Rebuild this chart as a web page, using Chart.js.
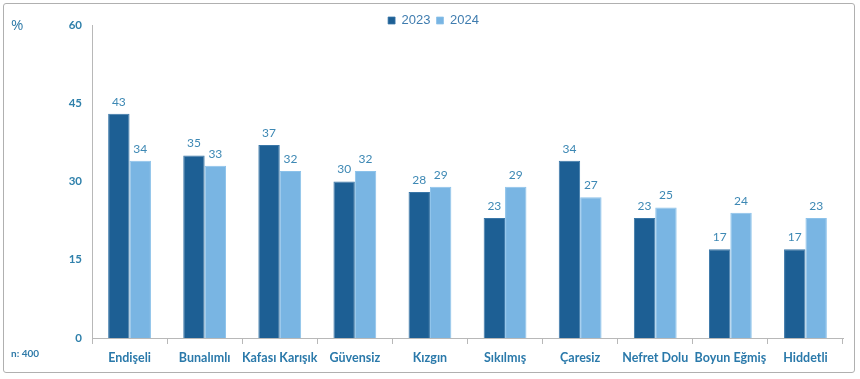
<!DOCTYPE html>
<html><head><meta charset="utf-8">
<script src="https://cdn.jsdelivr.net/npm/chart.js@4.4.1/dist/chart.umd.min.js"></script>
<style>
html,body{margin:0;padding:0;background:#fff;}
#wrap{position:absolute;left:0;top:0;width:860px;height:379px;}
#frame{position:absolute;left:3px;top:3px;width:852px;height:370px;border:1px solid #b0b0b0;border-radius:3px;box-sizing:border-box;pointer-events:none;}
#pct{position:absolute;left:11px;top:14px;font:15px "Open Sans",sans-serif;color:#2f7aa8;}
#n{position:absolute;left:11px;top:347px;font:bold 10px Lato,sans-serif;color:#2f7aa8;}
</style></head>
<body>
<div id="wrap"><canvas id="c" width="860" height="379"></canvas></div>
<div id="frame"></div>
<div id="pct">%</div>
<div id="n">n: 400</div>
<script>
const categories = ["Endişeli","Bunalımlı","Kafası Karışık","Güvensiz","Kızgın","Sıkılmış","Çaresiz","Nefret Dolu","Boyun Eğmiş","Hiddetli"];
const values2023 = [43,35,37,30,28,23,34,23,17,17];
const values2024 = [34,33,32,32,29,29,27,25,24,23];
const seriesNames = ["2023","2024"];
const yTicks = [0,15,30,45,60];

const labelPlugin = {
  id:'barLabels',
  afterDatasetsDraw(chart){
    const ctx = chart.ctx;
    ctx.save();
    ctx.font = '12px Lato, sans-serif';
    ctx.fillStyle = '#3d88b4';
    ctx.textAlign = 'center';
    ctx.textBaseline = 'bottom';
    chart.data.datasets.forEach((ds,i)=>{
      chart.getDatasetMeta(i).data.forEach((el,j)=>{
        ctx.fillText(String(ds.data[j]), el.x, el.y - 6);
      });
    });
    ctx.restore();
  }
};

const legendFit = {
  id:'legendFit',
  afterInit(chart){
    const lg = chart.legend;
    if(!lg) return;
    const origFit = lg.fit;
    lg.fit = function(){ origFit.apply(this, arguments); this.height = 17; };
    const origDraw = lg.draw;
    lg.draw = function(){
      const ctx = this.ctx;
      ctx.save(); ctx.translate(12, 0);
      origDraw.apply(this, arguments);
      ctx.restore();
    };
  }
};

new Chart(document.getElementById('c'), {
  type:'bar',
  data:{
    labels:categories,
    datasets:[
      {label:seriesNames[0], data:values2023, backgroundColor:'#1d5f94', borderColor:'#3a77a8', borderWidth:{top:1,left:1,right:1,bottom:0}},
      {label:seriesNames[1], data:values2024, backgroundColor:'#79b5e3', borderColor:'#8cc2ea', borderWidth:{top:1,left:1,right:1,bottom:0}}
    ]
  },
  options:{
    responsive:false,
    animation:false,
    devicePixelRatio:1,
    layout:{padding:{top:8,right:17,bottom:8,left:0}},
    datasets:{bar:{categoryPercentage:0.57,barPercentage:1}},
    plugins:{
      legend:{display:true,position:'top',align:'center',
        labels:{font:{family:'"Liberation Sans", Arial, sans-serif',size:13},color:'#3f7caf',boxWidth:7,boxHeight:7,padding:6}},
      tooltip:{enabled:false}
    },
    scales:{
      x:{
        grid:{display:true,offset:true,drawOnChartArea:false,drawTicks:true,tickLength:6,color:'#b8b8b8'},
        border:{display:true,color:'#b8b8b8'},
        ticks:{font:{family:'Lato, sans-serif',size:12.5,weight:'bold'},color:'#2a79aa',padding:6,maxRotation:0,autoSkip:false}
      },
      y:{
        min:0,max:60,
        afterFit(s){s.width=92;},
        afterBuildTicks(s){s.ticks = yTicks.map(v=>({value:v}));},
        grid:{display:false,drawTicks:false},
        border:{display:true,color:'#b8b8b8'},
        ticks:{font:{family:'Lato, sans-serif',size:11.5,weight:'bold'},color:'#2f80ab',padding:10}
      }
    }
  },
  plugins:[labelPlugin, legendFit]
});
</script>
</body></html>
